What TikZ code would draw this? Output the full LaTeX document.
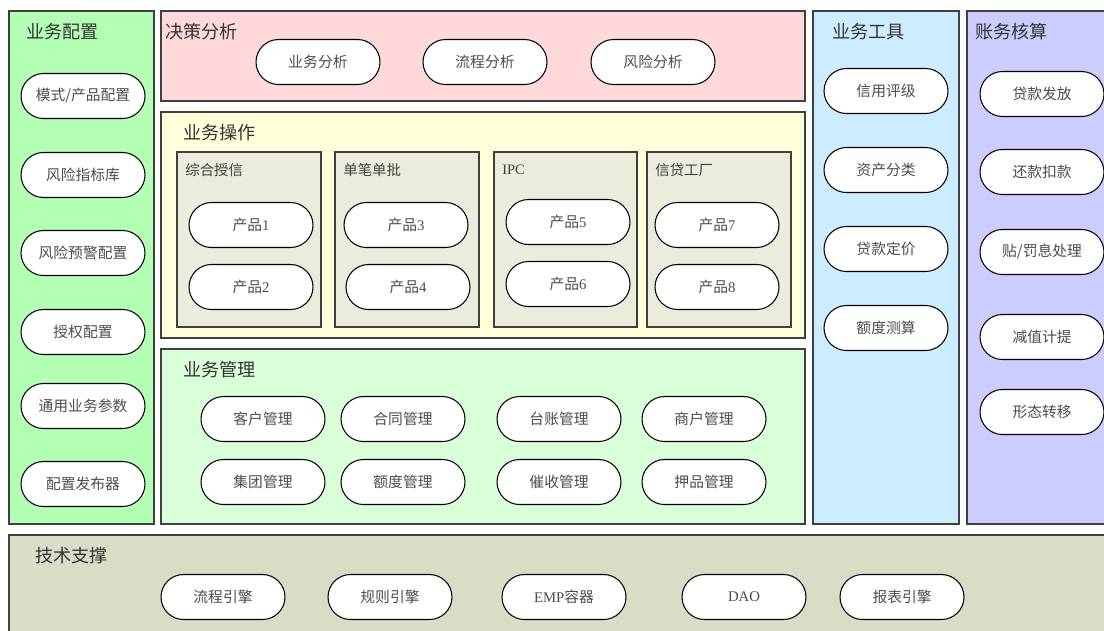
\documentclass[tikz,border=0pt]{standalone}
\usepackage{fontspec}
\setmainfont{Liberation Serif}
\newfontfamily\cjk{Noto Sans CJK SC}
\usepackage{tikz}
\usetikzlibrary{positioning}
\definecolor{konfig}{RGB}{179,255,179}
\definecolor{entscheid}{RGB}{255,217,217}
\definecolor{operation}{RGB}{255,255,217}
\definecolor{produkt}{RGB}{236,236,220}
\definecolor{verwaltung}{RGB}{217,255,217}
\definecolor{werkzeug}{RGB}{204,236,255}
\definecolor{buchung}{RGB}{204,204,255}
\definecolor{technik}{RGB}{217,221,198}
\newcommand{\lat}[1]{{\rmfamily #1}}
\tikzset{
  kasten/.style={draw=black!75, line width=0.6pt},
  titel/.style={anchor=west, inner sep=0pt, text=black!80, font=\cjk\fontsize{10.3}{12}\selectfont},
  untertitel/.style={anchor=west, inner sep=0pt, text=black!75, font=\cjk\fontsize{8.2}{10}\selectfont},
  pille/.style={draw=black, fill=white, line width=0.6pt, rounded corners=0.45cm, inner sep=0pt,
    minimum width=2.48cm, minimum height=0.9cm, text=black!70, font=\cjk\fontsize{8.4}{10}\selectfont}
}
\begin{document}
\begin{tikzpicture}[x=0.02cm,y=-0.02cm]
\useasboundingbox (0,0) rectangle (1104,630);
%Hintergrundflaechen
\draw[kasten,fill=konfig] (9,11) rectangle (154,524);
\draw[kasten,fill=entscheid] (161,11) rectangle (805,101);
\draw[kasten,fill=operation] (161,112) rectangle (805,338);
\draw[kasten,fill=verwaltung] (161,349) rectangle (805,524);
\draw[kasten,fill=werkzeug] (813,11) rectangle (959,524);
\draw[kasten,fill=buchung] (967,11) rectangle (1112,524);
\draw[kasten,fill=technik] (9,535) rectangle (1112,640);
\foreach \xa/\xb/\name [count=\i] in {177/321/综合授信,335/479/单笔单批,494/637/\lat{IPC},647/791/信贷工厂}{
\draw[kasten,fill=produkt] (\xa,152) rectangle (\xb,327);
\node[untertitel] (sub\i) at (\xa+8,170) {\name};
}
%Titel
\node[titel] (tkonfig) at (26,32) {业务配置};
\node[titel] (tentscheid) at (165,32) {决策分析};
\node[titel] (toperation) at (183,133) {业务操作};
\node[titel] (tverwaltung) at (183,370) {业务管理};
\node[titel] (twerkzeug) at (832,32) {业务工具};
\node[titel] (tbuchung) at (975,32) {账务核算};
\node[titel] (ttechnik) at (35,556) {技术支撑};
%Knoten
\foreach \y/\t [count=\i] in {96/{模式/产品配置},175/风险指标库,253/风险预警配置,332/授权配置,406/通用业务参数,484/配置发布器}{
\node[pille] (konfig\i) at (83,\y) {\t};
}
\foreach \x/\t [count=\i] in {318/业务分析,485/流程分析,653/风险分析}{
\node[pille] (entscheid\i) at (\x,62) {\t};
}
\foreach \x/\y [count=\i] in {251/225,251/287,406/225,408/287,568/222,568/284,717/225,717/287}{
\node[pille] (produkt\i) at (\x,\y) {产品\lat{\i}};
}
\foreach \x/\t [count=\i] in {263/客户管理,403/合同管理,559/台账管理,704/商户管理}{
\node[pille] (verwaltung\i) at (\x,419) {\t};
}
\foreach \x/\t [count=\i] in {263/集团管理,403/额度管理,559/催收管理,704/押品管理}{
\node[pille] (verwaltungb\i) at (\x,482) {\t};
}
\foreach \y/\t [count=\i] in {91/信用评级,170/资产分类,249/贷款定价,328/额度测算}{
\node[pille] (werkzeug\i) at (886,\y) {\t};
}
\foreach \y/\t [count=\i] in {94/贷款发放,172/还款扣款,252/{贴/罚息处理},337/减值计提,412/形态转移}{
\node[pille] (buchung\i) at (1042,\y) {\t};
}
\foreach \x/\t [count=\i] in {223/流程引擎,390/规则引擎,564/{\lat{EMP}容器},744/\lat{DAO},902/报表引擎}{
\node[pille] (technik\i) at (\x,597) {\t};
}
\end{tikzpicture}
\end{document}
